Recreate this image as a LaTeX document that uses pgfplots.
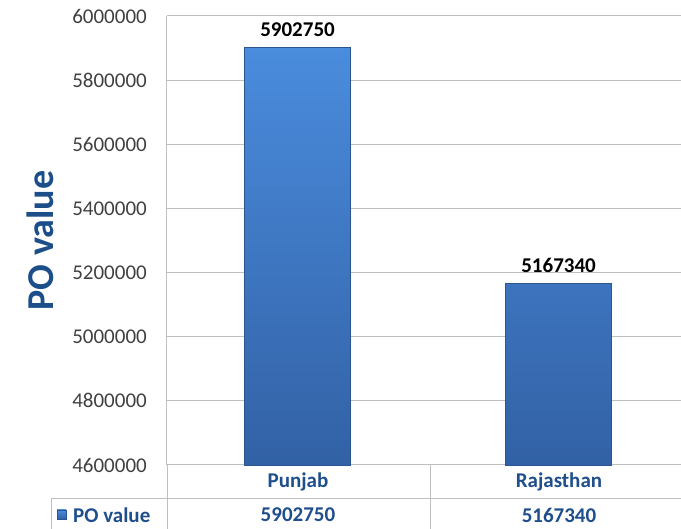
\documentclass[border=0pt]{standalone}
\usepackage{pgfplots}
\pgfplotsset{compat=1.18}
\usepackage{fontspec}
\setmainfont{Carlito}
\definecolor{barTop}{HTML}{4A8CDD}
\definecolor{barBot}{HTML}{3261A5}
\definecolor{barEdge}{HTML}{2A5591}
\definecolor{lblBlue}{HTML}{1C4E8A}
\definecolor{tblBlue}{HTML}{1F4E8C}
\definecolor{gridGray}{HTML}{BFBFBF}
\definecolor{tickGray}{HTML}{404040}
\begin{document}
\begin{tikzpicture}[x=1pt,y=1pt]
\useasboundingbox (0,0) rectangle (681,529);
\begin{axis}[
  name=ax,
  at={(167pt,64pt)}, anchor=south west,
  scale only axis, width=514pt, height=449pt,
  ymin=4600000, ymax=6000000,
  ytick={4600000,4800000,5000000,5200000,5400000,5600000,5800000,6000000},
  scaled y ticks=false,
  yticklabel={\pgfmathprintnumber[fixed,precision=0,1000 sep={}]{\tick}},
  /pgf/number format/assume math mode=true,
  yticklabel style={font=\fontsize{21}{21}\selectfont, text=tickGray, inner sep=0pt, xshift=-20pt},
  xmin=-0.5, xmax=1.469,
  xtick={0,1}, xticklabels={},
  major tick length=0pt,
  ymajorgrids, grid style={gridGray, line width=1pt},
  axis line style={gridGray, line width=1pt},
  axis x line*=bottom, axis y line*=left,
  ylabel={\bfseries PO value},
  ylabel style={at={(axis description cs:-0.247,0.5)}, anchor=center, font=\fontsize{38}{38}\selectfont, text=lblBlue},
  ybar, bar width=106pt,
  nodes near coords={\pgfmathprintnumber[fixed,precision=0,1000 sep={}]{\pgfplotspointmeta}},
  nodes near coords style={font=\bfseries\fontsize{21}{21}\selectfont, text=black, inner sep=0pt, anchor=south, yshift=10pt, /pgf/number format/assume math mode=true},
  clip=false,
]
\addplot[draw=barEdge, line width=0.8pt, top color=barTop, bottom color=barBot] coordinates {(0,5902750) (1,5167340)};
\end{axis}
% data table under the axis
\draw[gridGray, line width=1pt] (167,64) -- (167,0);
\draw[gridGray, line width=1pt] (430,64) -- (430,0);
\draw[gridGray, line width=1pt] (51,30) -- (681,30);
\draw[gridGray, line width=1pt] (51,30) -- (51,0);
\node[font=\bfseries\fontsize{21}{21}\selectfont, text=tblBlue] at (298,47) {Punjab};
\node[font=\bfseries\fontsize{21}{21}\selectfont, text=tblBlue] at (559,47) {Rajasthan};
\node[font=\bfseries\fontsize{21}{21}\selectfont, text=tblBlue] at (298,14) {5902750};
\node[font=\bfseries\fontsize{21}{21}\selectfont, text=tblBlue] at (559,14) {5167340};
\fill[top color=barTop, bottom color=barBot, draw=barEdge, line width=0.5pt] (57,10) rectangle (66,19);
\node[font=\bfseries\fontsize{21}{21}\selectfont, text=tblBlue, anchor=west, inner sep=0pt] at (73,14) {PO value};
\end{tikzpicture}
\end{document}
